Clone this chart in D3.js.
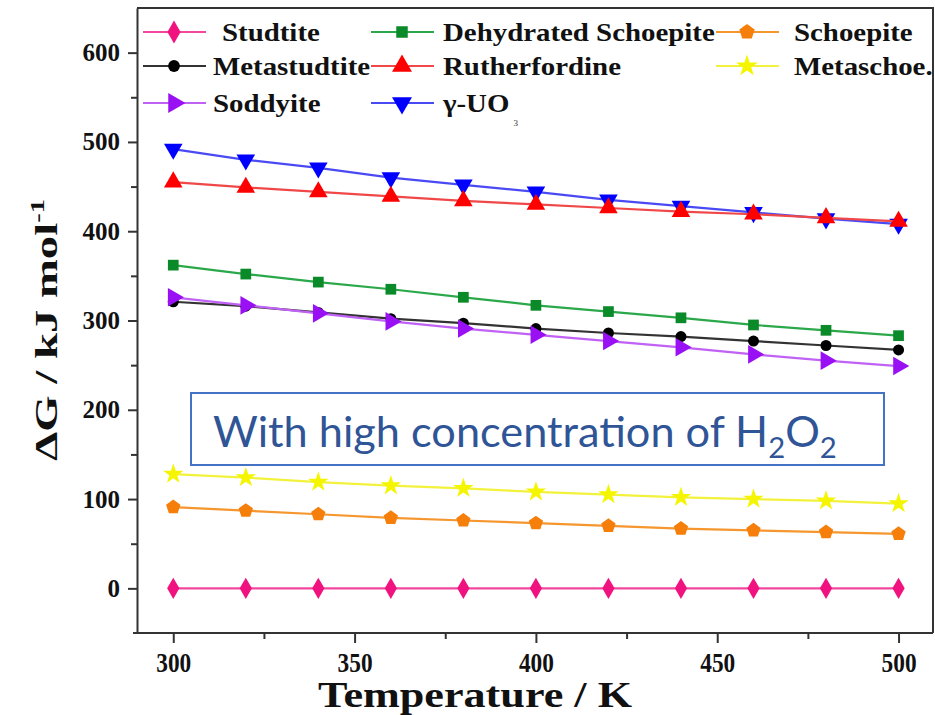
<!DOCTYPE html>
<html><head><meta charset="utf-8">
<script src="https://cdn.jsdelivr.net/npm/d3@7"></script>
<style>body{margin:0;background:#fff;} svg{display:block;}</style>
</head><body>
<svg id="chart" width="935" height="715"></svg>
<script>
// ---- data ----
const temperatures = [300,320,340,360,380,400,420,440,460,480,500];
const studtite = [0,0,0,0,0,0,0,0,0,0,0];
const dehydratedSchoepite = [362,352,343,335,326,317,310,303,295,289,283];
const schoepite = [91,87,83,79,76,73,70,67,65,63,61];
const metastudtite = [321,316,309,302,297,291,286,282,277,272,267];
const rutherfordine = [455,449,444,439,434,430,426,422,419,415,411];
const metaschoepite = [128,124,119,115,112,108,105,102,100,98,95];
const soddyite = [326,317,308,299,291,284,277,270,262,255,249];
const gammaUO3 = [492,480,471,460,452,444,435,428,421,414,408];
const xTicks = [300,350,400,450,500];
const xMinorTicks = [325,375,425,475];
const yTicks = [0,100,200,300,400,500,600];
const yMinorTicks = [50,150,250,350,450,550];
const seriesNames = ["Studtite","Dehydrated Schoepite","Schoepite","Metastudtite","Rutherfordine","Metaschoe.","Soddyite","γ-UO"];
const xTitle = "Temperature / K";
const yTitle = "ΔG / kJ mol";
const annotation = "With high concentration of H";

// ---- styles ----
const symbolPentagon = { draw(ctx, size){ const r = Math.sqrt(size/2.378); for(let i=0;i<5;i++){const a=-Math.PI/2+i*2*Math.PI/5; const px=r*Math.cos(a), py=r*Math.sin(a); if(i) ctx.lineTo(px,py); else ctx.moveTo(px,py);} ctx.closePath(); } };
const series = [
  {name: seriesNames[0], values: studtite, line:"#f2479e", fill:"#f0127f", symbol:d3.symbolDiamond, size:130, rot:0},
  {name: seriesNames[1], values: dehydratedSchoepite, line:"#2aa84a", fill:"#0b8a2a", symbol:d3.symbolSquare, size:115, rot:0},
  {name: seriesNames[2], values: schoepite, line:"#f5962e", fill:"#f57f0a", symbol:symbolPentagon, size:135, rot:0},
  {name: seriesNames[3], values: metastudtite, line:"#333333", fill:"#000000", symbol:d3.symbolCircle, size:95, rot:0},
  {name: seriesNames[4], values: rutherfordine, line:"#f04848", fill:"#ff0000", symbol:d3.symbolTriangle, size:150, rot:0},
  {name: seriesNames[5], values: metaschoepite, line:"#f2f23c", fill:"#f5f500", symbol:d3.symbolStar, size:130, rot:0},
  {name: seriesNames[6], values: soddyite, line:"#c062f5", fill:"#9a10f5", symbol:d3.symbolTriangle, size:150, rot:90},
  {name: seriesNames[7], values: gammaUO3, line:"#4a4af5", fill:"#0000ff", symbol:d3.symbolTriangle, size:150, rot:180}
];
const drawOrder = [0,5,2,1,3,6,7,4];

(function(){
const svg = d3.select("#chart");
const mL = 137, mR = 933, mT = 8, mB = 633;
const x = d3.scaleLinear().domain([290, 509.5]).range([mL, mR]);
const y = d3.scaleLinear().domain([-50, 650]).range([mB, mT]);
const serif = "'Liberation Serif','Times New Roman',serif";
const stretch = (sel, target) => sel.attr("textLength", target).attr("lengthAdjust","spacingAndGlyphs");

// frame (top & right)
svg.append("path").attr("d", `M${mL},${mT}H${mR}V${mB}`).attr("fill","none").attr("stroke","#333").attr("stroke-width",2);

// x axis
const gx = svg.append("g").attr("transform",`translate(0,${mB})`)
  .call(d3.axisBottom(x).tickValues(xTicks).tickSize(10).tickPadding(10).tickSizeOuter(0));
svg.append("g").attr("transform",`translate(0,${mB})`)
  .call(d3.axisBottom(x).tickValues(xMinorTicks).tickSize(6).tickFormat("").tickSizeOuter(0))
  .select(".domain").remove();
gx.select(".domain").attr("d", `M${mL-4},0H${mR}`);
// y axis
const gy = svg.append("g").attr("transform",`translate(${mL},0)`)
  .call(d3.axisLeft(y).tickValues(yTicks).tickSize(9).tickPadding(8).tickSizeOuter(0));
svg.append("g").attr("transform",`translate(${mL},0)`)
  .call(d3.axisLeft(y).tickValues(yMinorTicks).tickSize(6).tickFormat("").tickSizeOuter(0))
  .select(".domain").remove();
svg.selectAll(".domain").attr("stroke","#333").attr("stroke-width",2);
svg.selectAll(".tick line").attr("stroke","#333").attr("stroke-width",2);
svg.selectAll(".tick text").attr("font-family",serif).attr("font-weight","bold").attr("fill","#111");
gx.selectAll(".tick text").attr("font-size",27).each(function(){ stretch(d3.select(this), 35); });
gy.selectAll(".tick text").attr("font-size",25);

// axis titles
stretch(svg.append("text").attr("x", 475).attr("y", 707).attr("text-anchor","middle")
  .attr("font-family",serif).attr("font-weight","bold").attr("font-size",35).attr("fill","#111").text(xTitle), 314);
const yt = svg.append("text").attr("transform","translate(57,330) rotate(-90)").attr("text-anchor","middle")
  .attr("font-family",serif).attr("font-weight","bold").attr("font-size",31).attr("fill","#111");
yt.append("tspan").text(yTitle);
yt.append("tspan").attr("dy",-13).attr("font-size",19).text("-1");
stretch(yt, 262);

// series
const line = d3.line().x((d,i)=>x(temperatures[i])).y(d=>y(d));
drawOrder.forEach(k => {
  const s = series[k];
  const g = svg.append("g");
  g.append("path").attr("d", line(s.values)).attr("fill","none").attr("stroke",s.line).attr("stroke-width",2.2);
  g.selectAll("path.m").data(s.values).join("path").attr("class","m")
    .attr("transform",(d,i)=>`translate(${x(temperatures[i])},${y(d)}) rotate(${s.rot})`)
    .attr("d", d3.symbol().type(s.symbol).size(s.size)()).attr("fill",s.fill);
});

// legend
const colX = [143, 371, 716], rowY = [32, 66, 103];
const textOff = [70, 72, 78];
const legendPos = [[0,0],[1,0],[2,0],[0,1],[1,1],[2,1],[0,2],[1,2]];
series.forEach((s,k) => {
  const [c,r] = legendPos[k];
  const g = svg.append("g").attr("transform",`translate(${colX[c]},${rowY[r]})`);
  g.append("line").attr("x1",0).attr("x2",63).attr("stroke",s.line).attr("stroke-width",2.2);
  g.append("path").attr("transform",`translate(31,0) rotate(${s.rot})`).attr("d", d3.symbol().type(s.symbol).size(s.size*1.15)()).attr("fill",s.fill);
  const t = g.append("text").attr("x", textOff[c] + (k===0?9:0)).attr("y", 9).attr("font-family",serif).attr("font-weight","bold")
    .attr("font-size",26).attr("fill","#111").text(s.name);
  const nat = t.node().getComputedTextLength();
  stretch(t, nat*1.11);
  if (k===7) g.append("text").attr("x", textOff[c] + nat*1.11 + 4).attr("y", 23).attr("font-family",serif)
    .attr("font-size",9).attr("fill","#333").text("3");
});

// annotation box
svg.append("rect").attr("x",191).attr("y",393).attr("width",693).attr("height",72)
  .attr("fill","#fff").attr("stroke","#4472c4").attr("stroke-width",2);
const at = svg.append("text").attr("x",213).attr("y",447).attr("font-family","Lato, 'Open Sans', sans-serif")
  .attr("font-size",40).attr("fill","#2f5597");
at.append("tspan").text(annotation);
at.append("tspan").attr("class","sub").attr("font-size",27).attr("dy",11).text("2");
at.append("tspan").attr("dy",-11).text("O");
at.append("tspan").attr("class","sub").attr("font-size",27).attr("dy",11).text("2");
const w = at.node().getComputedTextLength();
const kk = 624 / w;
at.attr("font-size", 40*kk);
at.selectAll("tspan.sub").attr("font-size", 27*kk);
})();
</script>
</body></html>
